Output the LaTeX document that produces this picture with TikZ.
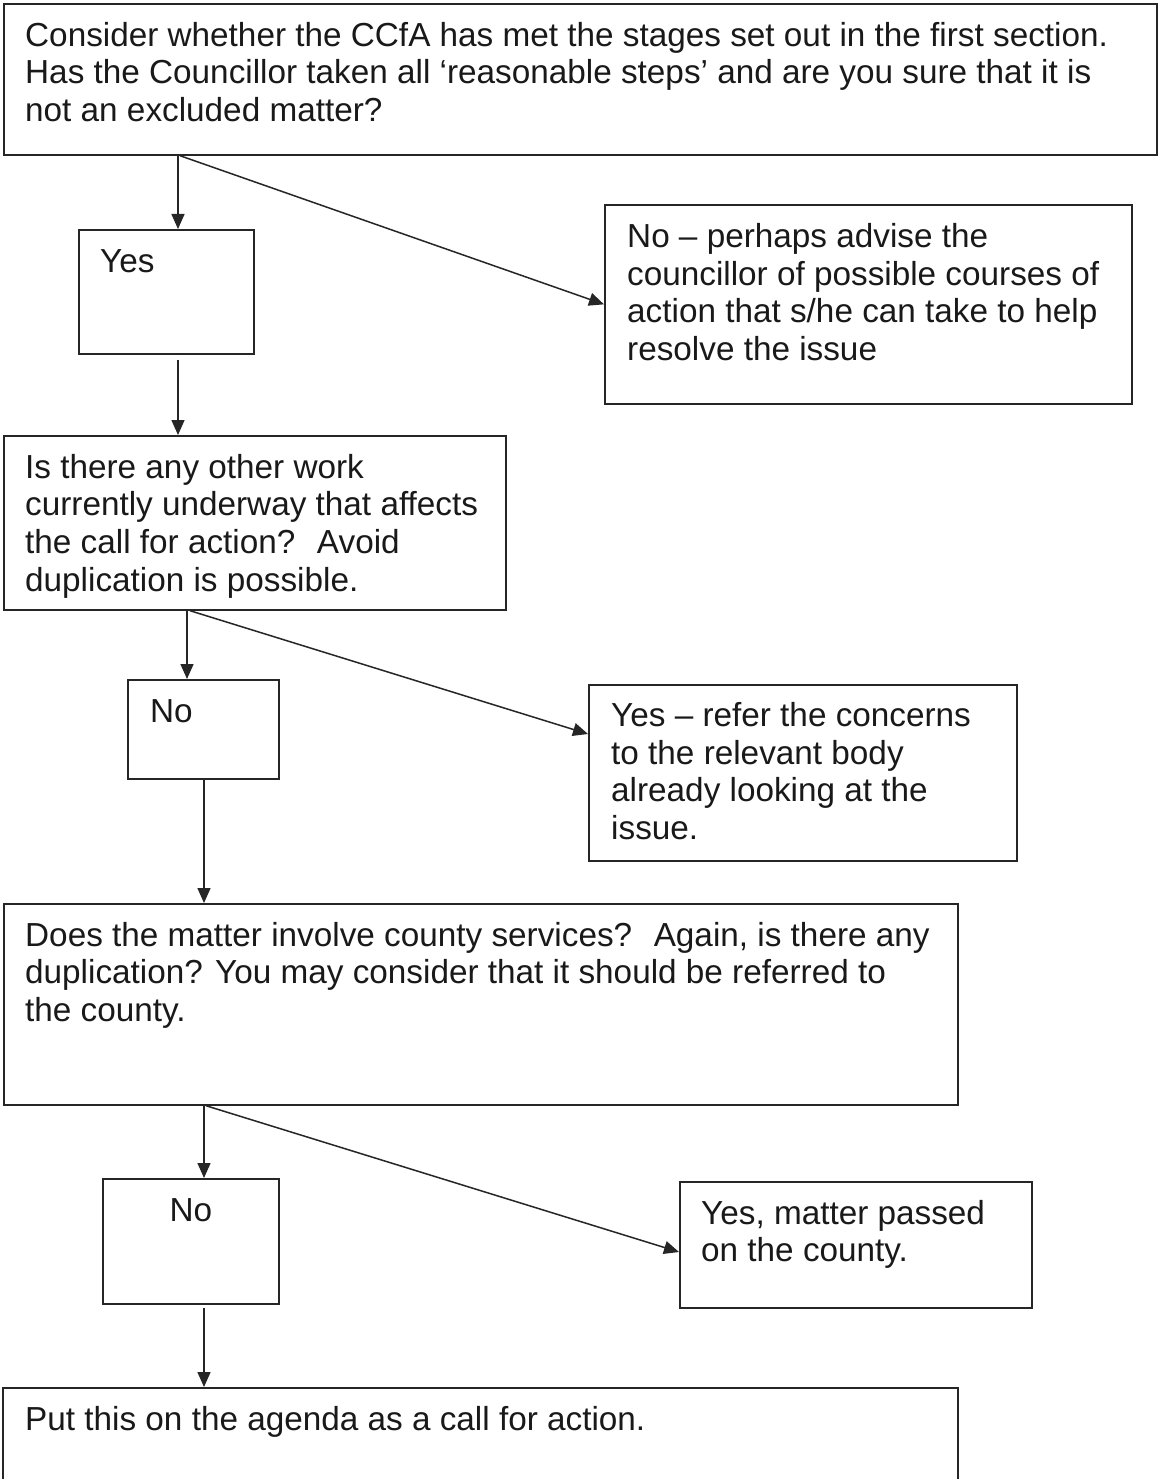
\documentclass[tikz,border=0pt]{standalone}
\usepackage{fontspec}
\setmainfont{Liberation Sans}
\usetikzlibrary{arrows.meta}
\begin{document}
\begin{tikzpicture}[x=1pt,y=-1pt,
  box/.style={draw=black!85, line width=1.7pt, rectangle, inner sep=0pt, anchor=north west},
  txt/.style={inner sep=0pt, anchor=north west, align=left, font=\fontsize{33.3}{37.7}\selectfont, text=black!90},
  arr/.style={draw=black!85, line width=1.5pt, -{Triangle[length=15pt,width=13pt]}}]
\useasboundingbox (0,0) rectangle (1157,1479);
\fill[white] (0,0) rectangle (1157,1479);
% boxes
\node[box, minimum width=1153pt, minimum height=151pt] (b1) at (3,3) {};
\node[box, minimum width=175pt, minimum height=124pt] (yes1) at (78,229) {};
\node[box, minimum width=527pt, minimum height=199pt] (noA) at (604,204) {};
\node[box, minimum width=502pt, minimum height=174pt] (b2) at (3,435) {};
\node[box, minimum width=151pt, minimum height=99pt] (no2) at (127,679) {};
\node[box, minimum width=428pt, minimum height=176pt] (yes2) at (588,684) {};
\node[box, minimum width=954pt, minimum height=201pt] (b3) at (3,903) {};
\node[box, minimum width=176pt, minimum height=125pt] (no3) at (102,1178) {};
\node[box, minimum width=352pt, minimum height=126pt] (yes3) at (679,1181) {};
\node[box, minimum width=955pt, minimum height=200pt] (b4) at (2,1387) {};
% texts
\node[txt] (t1) at ([xshift=22pt,yshift=-16.5pt]b1.north west) {\strut Consider whether the CCfA has met the stages set out in the first section.\\
Has the Councillor taken all ‘reasonable steps’ and are you sure that it is\\
not an excluded matter?};
\node[txt] (tyes1) at ([xshift=22pt,yshift=-16.5pt]yes1.north west) {\strut Yes};
\node[txt] (tnoA) at ([xshift=23pt,yshift=-17pt]noA.north west) {\strut No – perhaps advise the\\
councillor of possible courses of\\
action that s/he can take to help\\
resolve the issue};
\node[txt] (t2) at ([xshift=22pt,yshift=-16.5pt]b2.north west) {\strut Is there any other work\\
currently underway that affects\\
the call for action?~ Avoid\\
duplication is possible.};
\node[txt] (tno2) at ([xshift=23pt,yshift=-16.5pt]no2.north west) {\strut No};
\node[txt] (tyes2) at ([xshift=23pt,yshift=-16pt]yes2.north west) {\strut Yes – refer the concerns\\
to the relevant body\\
already looking at the\\
issue.};
\node[txt] (t3) at ([xshift=22pt,yshift=-16.5pt]b3.north west) {\strut Does the matter involve county services?~ Again, is there any\\
duplication? You may consider that it should be referred to\\
the county.};
\node[txt, anchor=north] (tno3) at ([yshift=-16.5pt]no3.north) {\strut No};
\node[txt] (tyes3) at ([xshift=22pt,yshift=-16.5pt]yes3.north west) {\strut Yes, matter passed\\
on the county.};
\node[txt] (t4) at ([xshift=23pt,yshift=-16.5pt]b4.north west) {\strut Put this on the agenda as a call for action.};
% connectors
\draw[arr] ([xshift=175pt]b1.south west) -- ([xshift=100pt]yes1.north west);
\draw[arr] ([xshift=177pt]b1.south west) -- (noA.west);
\draw[arr] ([xshift=100pt,yshift=-5pt]yes1.south west) -- ([xshift=175pt]b2.north west);
\draw[arr] ([xshift=184pt]b2.south west) -- ([xshift=60pt]no2.north west);
\draw[arr] ([xshift=187pt]b2.south west) -- ([yshift=-50pt]yes2.north west);
\draw[arr] ([xshift=77pt]no2.south west) -- ([xshift=201pt]b3.north west);
\draw[arr] ([xshift=201pt]b3.south west) -- ([xshift=102pt]no3.north west);
\draw[arr] ([xshift=203pt]b3.south west) -- ([yshift=-71pt]yes3.north west);
\draw[arr] ([xshift=102pt,yshift=-3pt]no3.south west) -- ([xshift=202pt]b4.north west);
\end{tikzpicture}
\end{document}
